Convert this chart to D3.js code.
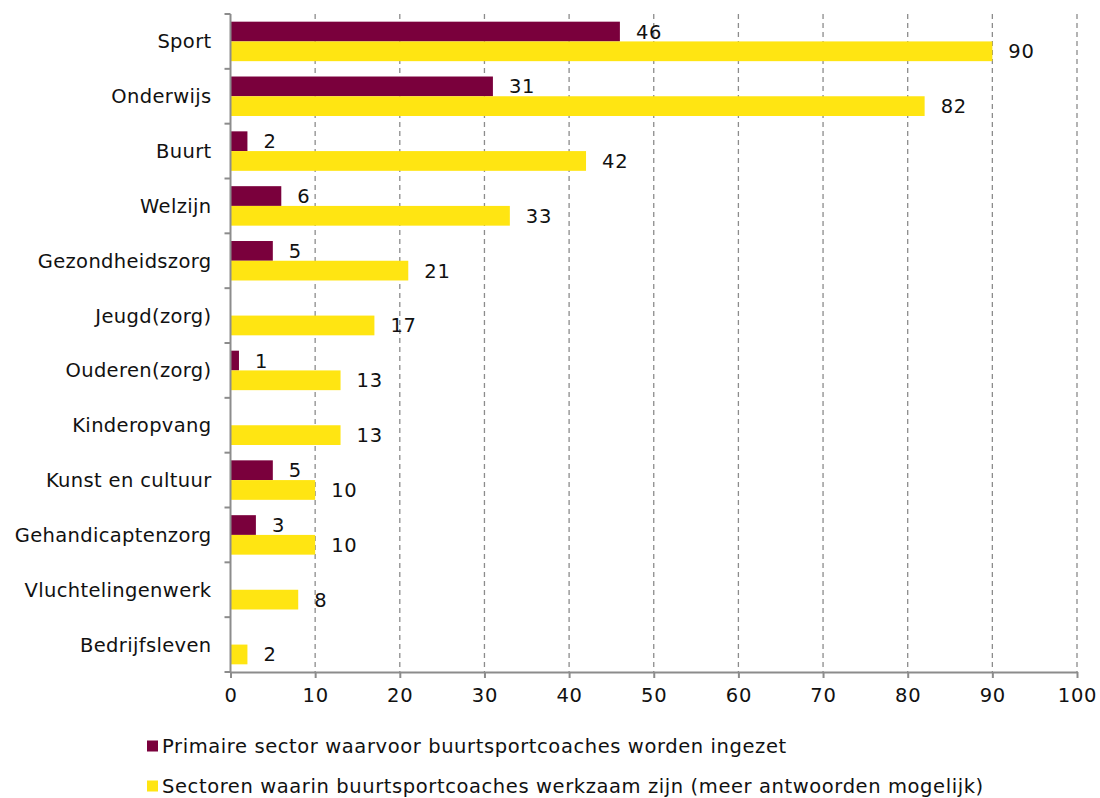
<!DOCTYPE html>
<html>
<head>
<meta charset="utf-8">
<script src="https://cdn.jsdelivr.net/npm/d3@7"></script>
<style>
  body { margin: 0; background: #fff; }
  text { font-family: "DejaVu Sans", sans-serif; fill: #111; }
</style>
</head>
<body>
<div id="chart"></div>
<script>
// Categories, top to bottom
const categories = ["Sport", "Onderwijs", "Buurt", "Welzijn", "Gezondheidszorg", "Jeugd(zorg)",
    "Ouderen(zorg)", "Kinderopvang", "Kunst en cultuur", "Gehandicaptenzorg", "Vluchtelingenwerk", "Bedrijfsleven"];
// null = no bar
const primary = [46, 31, 2, 6, 5, null, 1, null, 5, 3, null, null];
const sectors = [90, 82, 42, 33, 21, 17, 13, 13, 10, 10, 8, 2];
const seriesNames = [
    "Primaire sector waarvoor buurtsportcoaches worden ingezet",
    "Sectoren waarin buurtsportcoaches werkzaam zijn (meer antwoorden mogelijk)"
];
const colors = ["#7a003c", "#ffe512"];
const xTicks = [0, 10, 20, 30, 40, 50, 60, 70, 80, 90, 100];

const W = 1100, H = 798;
const margin = { top: 14, right: 23, bottom: 126, left: 230.5 };
const width = W - margin.left - margin.right,
    height = H - margin.top - margin.bottom;
const FS = 19.5;

const svg = d3.select("#chart").append("svg")
    .attr("width", W).attr("height", H);
const g = svg.append("g").attr("transform", `translate(${margin.left},${margin.top})`);

const x = d3.scaleLinear().domain([0, 100]).range([0, width]);
const y = d3.scaleBand().domain(categories).range([0, height]).paddingInner(0.28).paddingOuter(0.14);
const inner = d3.scaleBand().domain([0, 1]).range([0, y.bandwidth()]);

// dashed gridlines
g.selectAll("line.grid").data(xTicks.slice(1)).join("line")
    .attr("class", "grid")
    .attr("x1", d => x(d)).attr("x2", d => x(d))
    .attr("y1", 0).attr("y2", height)
    .attr("stroke", "#8c8c8c").attr("stroke-width", 1.3)
    .attr("stroke-dasharray", "5,4");

// bars
const series = [primary, sectors];
series.forEach((vals, s) => {
    const rows = categories.map((c, i) => ({ c, v: vals[i] })).filter(d => d.v != null);
    g.selectAll(`rect.s${s}`).data(rows).join("rect")
        .attr("class", `s${s}`)
        .attr("x", x(0))
        .attr("y", d => y(d.c) + inner(s))
        .attr("width", d => x(d.v) - x(0))
        .attr("height", inner.bandwidth())
        .attr("fill", colors[s]);
    g.selectAll(`text.l${s}`).data(rows).join("text")
        .attr("class", `l${s}`)
        .attr("x", d => x(d.v) + 16)
        .attr("y", d => y(d.c) + inner(s) + inner.bandwidth() / 2)
        .attr("dy", "0.36em")
        .attr("font-size", FS)
        .attr("letter-spacing", 0.8)
        .text(d => d.v);
});

// y axis with ticks at category boundaries
const yAxisG = g.append("g");
yAxisG.append("line").attr("x1", 0).attr("x2", 0).attr("y1", 0).attr("y2", height)
    .attr("stroke", "#8c8c8c").attr("stroke-width", 2);
const bounds = d3.range(categories.length + 1).map(i => i * height / categories.length);
yAxisG.selectAll("line.tk").data(bounds).join("line")
    .attr("class", "tk")
    .attr("x1", -6).attr("x2", 0).attr("y1", d => d).attr("y2", d => d)
    .attr("stroke", "#8c8c8c").attr("stroke-width", 2);
yAxisG.selectAll("text").data(categories).join("text")
    .attr("x", -19)
    .attr("y", d => y(d) + y.bandwidth() / 2)
    .attr("dy", "0.36em")
    .attr("text-anchor", "end")
    .attr("font-size", FS)
    .attr("letter-spacing", 0.35)
    .text(d => d);

// x axis
const xAxis = g.append("g")
    .attr("transform", `translate(0,${height})`)
    .call(d3.axisBottom(x).tickValues(xTicks).tickSize(6).tickPadding(10).tickSizeOuter(0));
xAxis.select(".domain").attr("stroke", "#8c8c8c").attr("stroke-width", 2);
xAxis.selectAll(".tick line").attr("stroke", "#8c8c8c").attr("stroke-width", 2);
xAxis.selectAll(".tick text").attr("font-size", FS).attr("letter-spacing", 0.8)
    .attr("font-family", "DejaVu Sans, sans-serif").attr("fill", "#111");

// legend
const legend = svg.append("g").attr("transform", "translate(147,0)");
seriesNames.forEach((name, i) => {
    const ly = 746 + i * 40;
    legend.append("rect").attr("x", 0).attr("y", ly - 5.5).attr("width", 11).attr("height", 11)
        .attr("fill", colors[i]);
    legend.append("text").attr("x", 15).attr("y", ly).attr("dy", "0.36em")
        .attr("font-size", FS).attr("letter-spacing", 0.6).text(name);
});
</script>
</body>
</html>
